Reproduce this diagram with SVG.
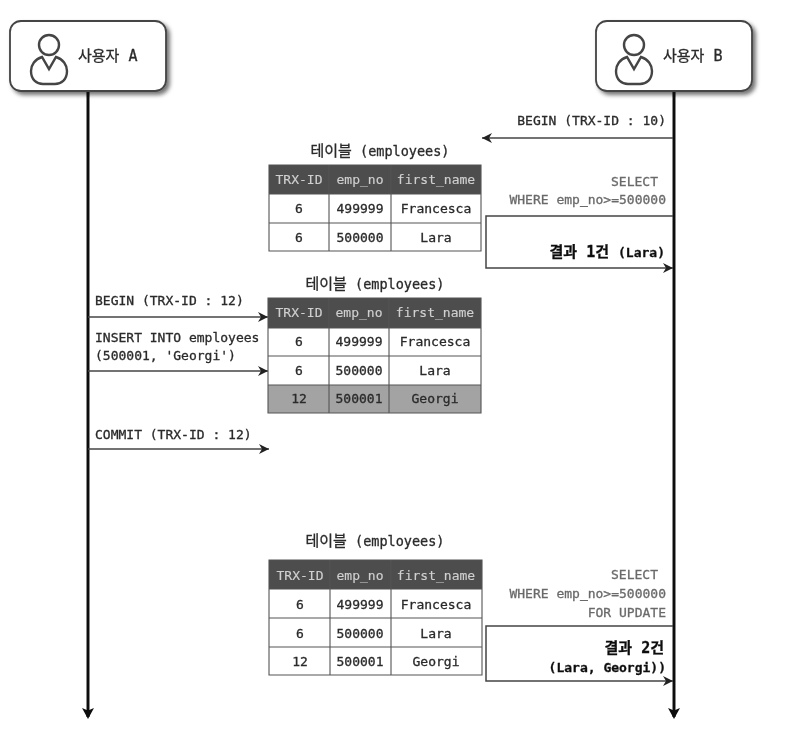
<svg xmlns="http://www.w3.org/2000/svg" width="786" height="732" viewBox="0 0 786 732">
<style>
text{font-family:"DejaVu Sans Mono","Noto Sans CJK KR",monospace;font-size:13px;fill:#2a2a2a;stroke:#2a2a2a;stroke-width:.3}
.m{text-anchor:middle}.e{text-anchor:end}.g{fill:#6a6a6a;stroke:#6a6a6a}.b{font-weight:bold;fill:#111;stroke:#111}
.h{fill:#d0d0d0;stroke:#d0d0d0;stroke-width:.15}.hd{fill:#4d4d4d}.gl{stroke:#555;stroke-width:1.1;fill:none}
.node{fill:#fff;stroke:#444;stroke-width:1.8;filter:url(#sh)}
.icon{fill:none;stroke:#444;stroke-width:2.4}
.life{stroke:#111;stroke-width:3;fill:none;marker-end:url(#big)}
.msg{stroke:#444;stroke-width:1.5;fill:none;marker-end:url(#ah)}
.ko{font-size:15px}.ttl{font-size:13.5px}
</style>
<defs>
<filter id="sh" x="-10%" y="-10%" width="125%" height="130%"><feDropShadow dx="3" dy="3" stdDeviation="2" flood-color="#000" flood-opacity="0.55"/></filter>
<filter id="soft" filterUnits="userSpaceOnUse" x="0" y="0" width="786" height="732"><feGaussianBlur stdDeviation="0.55"/></filter>
<marker id="ah" markerUnits="userSpaceOnUse" markerWidth="12" markerHeight="10" refX="10" refY="5" orient="auto"><path d="M0 0L10 5L0 10L3 5Z" fill="#222"/></marker>
<marker id="big" markerUnits="userSpaceOnUse" markerWidth="12" markerHeight="12" refX="9" refY="6" orient="auto"><path d="M0 0L11 6L0 12L2.5 6Z" fill="#111"/></marker>
<g id="usr"><circle cx="0" cy="-10" r="10" class="icon"/><path d="M-7 2C-14 4-18 10-18 16C-18 25-12 29-6 29L6 29C12 29 18 25 18 16C18 10 14 4 7 2L0 14Z" class="icon"/></g>
</defs>
<rect width="786" height="732" fill="#fff"/>
<g filter="url(#soft)">
<g id="connectors">
<path class="life" d="M88 92V717"/>
<path class="life" d="M674 92V717"/>
<path class="msg" d="M673 138H482"/>
<path class="msg" d="M673 216H486V268H673"/>
<path class="msg" d="M88 317H268"/>
<path class="msg" d="M88 371H268"/>
<path class="msg" d="M88 449H269"/>
<path class="msg" d="M673 626H486V681H673"/>
</g>
<g id="user-a"><rect class="node" x="10" y="21" width="156" height="70" rx="11"/><use href="#usr" x="49" y="55"/><text class="ko" x="78" y="61">사용자 A</text></g>
<g id="user-b"><rect class="node" x="596" y="21" width="156" height="70" rx="11"/><use href="#usr" x="634" y="55"/><text class="ko" x="663" y="61">사용자 B</text></g>
<g id="table-1">
<text class="m ttl" x="380" y="156"><tspan class="ko">테이블</tspan> (employees)</text>
<rect class="hd" x="269" y="165" width="212" height="29"/>
<path class="gl" d="M269 165H481V251H269ZM269 194H481M269 223H481M329 165V251M391 165V251"/>
<text class="m h" x="299" y="184">TRX-ID</text><text class="m h" x="360" y="184">emp_no</text><text class="m h" x="436" y="184">first_name</text>
<text class="m" x="299" y="213">6</text><text class="m" x="360" y="213">499999</text><text class="m" x="436" y="213">Francesca</text>
<text class="m" x="299" y="242">6</text><text class="m" x="360" y="242">500000</text><text class="m" x="436" y="242">Lara</text>
</g>
<g id="table-2">
<text class="m ttl" x="375" y="289"><tspan class="ko">테이블</tspan> (employees)</text>
<rect class="hd" x="268" y="298" width="213" height="30"/><rect x="268" y="385" width="213" height="28" fill="#a3a3a3"/>
<path class="gl" d="M268 298H481V413H268ZM268 328H481M268 356H481M268 385H481M329 298V413M389 298V413"/>
<text class="m h" x="299" y="317">TRX-ID</text><text class="m h" x="359" y="317">emp_no</text><text class="m h" x="435" y="317">first_name</text>
<text class="m" x="299" y="346">6</text><text class="m" x="359" y="346">499999</text><text class="m" x="435" y="346">Francesca</text>
<text class="m" x="299" y="375">6</text><text class="m" x="359" y="375">500000</text><text class="m" x="435" y="375">Lara</text>
<text class="m" x="299" y="403">12</text><text class="m" x="359" y="403">500001</text><text class="m" x="435" y="403">Georgi</text>
</g>
<g id="table-3">
<text class="m ttl" x="375" y="546"><tspan class="ko">테이블</tspan> (employees)</text>
<rect class="hd" x="269" y="560" width="213" height="29"/>
<path class="gl" d="M269 560H482V675H269ZM269 589H482M269 618H482M269 647H482M330 560V675M391 560V675"/>
<text class="m h" x="300" y="580">TRX-ID</text><text class="m h" x="360" y="580">emp_no</text><text class="m h" x="436" y="580">first_name</text>
<text class="m" x="300" y="609">6</text><text class="m" x="360" y="609">499999</text><text class="m" x="436" y="609">Francesca</text>
<text class="m" x="300" y="638">6</text><text class="m" x="360" y="638">500000</text><text class="m" x="436" y="638">Lara</text>
<text class="m" x="300" y="666">12</text><text class="m" x="360" y="666">500001</text><text class="m" x="436" y="666">Georgi</text>
</g>
<g id="labels">
<text class="e" x="666" y="125">BEGIN (TRX-ID : 10)</text>
<text class="e g" x="658" y="186">SELECT</text>
<text class="e g" x="666" y="204">WHERE emp_no&gt;=500000</text>
<text class="e b" x="665" y="257"><tspan class="ko">결과 1건 </tspan>(Lara)</text>
<text x="95" y="305">BEGIN (TRX-ID : 12)</text>
<text x="95" y="342">INSERT INTO employees</text>
<text x="95" y="360">(500001, 'Georgi')</text>
<text x="95" y="439">COMMIT (TRX-ID : 12)</text>
<text class="e g" x="658" y="579">SELECT</text>
<text class="e g" x="666" y="598">WHERE emp_no&gt;=500000</text>
<text class="e g" x="666" y="617">FOR UPDATE</text>
<text class="e b ko" x="664" y="653">결과 2건</text>
<text class="e b" x="666" y="672">(Lara, Georgi))</text>
</g>
</g>
</svg>
